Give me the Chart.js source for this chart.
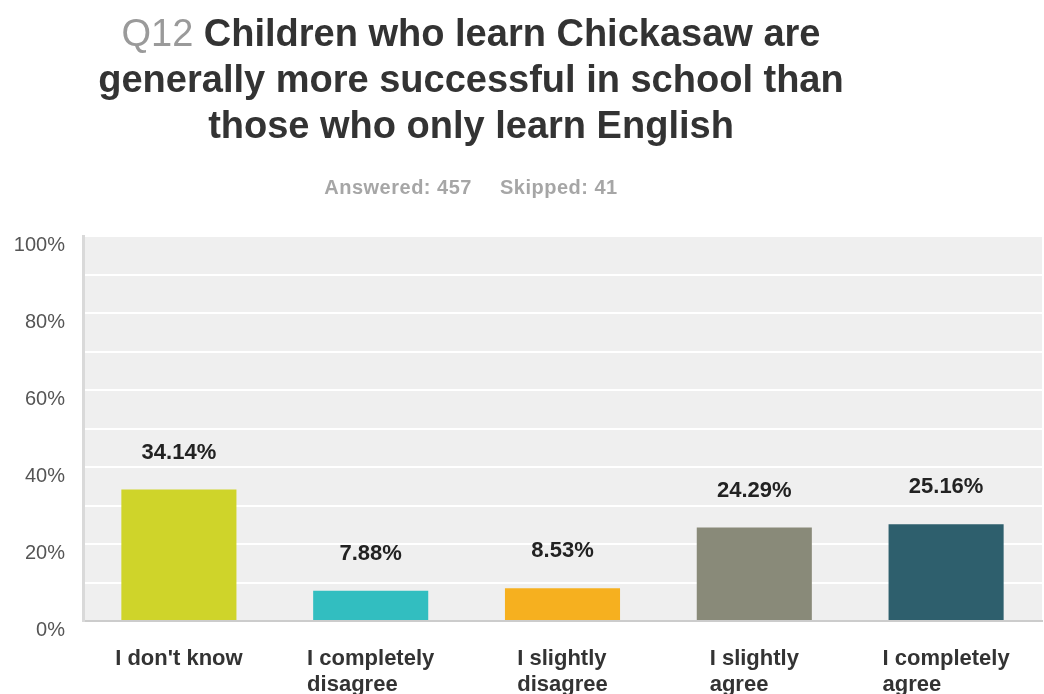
<!DOCTYPE html>
<html>
<head>
<meta charset="utf-8">
<script src="https://cdn.jsdelivr.net/npm/chart.js@4"></script>
<style>
  html, body { margin: 0; padding: 0; background: #fff; }
  #wrap { position: relative; width: 1044px; height: 694px; font-family: "Liberation Sans", Arial, sans-serif; }
  #title { position: absolute; left: 0; top: 10px; width: 942px; text-align: center; font-size: 38px; line-height: 46px; font-weight: bold; color: #333; }
  #title .q { color: #9a9a9a; font-weight: normal; }
  #sub { position: absolute; left: 0; top: 174px; width: 942px; text-align: center; font-size: 20px; line-height: 26px; font-weight: bold; color: #a6a6a6; letter-spacing: 0.5px; }
  #sub span + span { margin-left: 28px; }
  canvas { position: absolute; left: 0; top: 0; }
</style>
</head>
<body>
<div id="wrap">
  <canvas id="chart" width="1044" height="694"></canvas>
  <div id="title"><span class="q">Q12</span> Children who learn Chickasaw are<br>generally more successful in school than<br>those who only learn English</div>
  <div id="sub"><span>Answered: 457</span><span>Skipped: 41</span></div>
</div>
<script>
const categories = [
  ["I don't know"],
  ["I completely", "disagree"],
  ["I slightly", "disagree"],
  ["I slightly", "agree"],
  ["I completely", "agree"]
];
const percents = [34.14, 7.88, 8.53, 24.29, 25.16];
const barColors = ['#cfd42a', '#32bec0', '#f6b01f', '#898a79', '#2e5f6d'];
const yTicks = [0, 20, 40, 60, 80, 100];

const FONT = '"Liberation Sans", Arial, sans-serif';

// fond gris de la zone du graphique
const plotBg = {
  id: 'plotBg',
  beforeDraw(chart) {
    const a = chart.chartArea, ctx = chart.ctx;
    ctx.save();
    ctx.fillStyle = '#efefef';
    ctx.fillRect(a.left, a.top, a.right - a.left, a.bottom - a.top);
    ctx.restore();
  }
};

// valeurs au-dessus des barres + libellés de catégories
const labelsPlugin = {
  id: 'labelsPlugin',
  afterDatasetsDraw(chart) {
    const ctx = chart.ctx;
    const meta = chart.getDatasetMeta(0);
    ctx.save();
    ctx.font = 'bold 22px ' + FONT;
    ctx.fillStyle = '#222';
    ctx.textAlign = 'center';
    ctx.textBaseline = 'middle';
    meta.data.forEach((bar, i) => {
      ctx.fillText(percents[i].toFixed(2) + '%', bar.x, bar.y - 37);
    });

    const xs = chart.scales.x;
    ctx.fillStyle = '#333';
    ctx.textAlign = 'left';
    categories.forEach((lines, i) => {
      const cx = xs.getPixelForValue(i);
      const w = Math.max(...lines.map(l => ctx.measureText(l).width));
      lines.forEach((l, j) => {
        ctx.fillText(l, cx - w / 2, xs.top + 38 + j * 26);
      });
    });
    ctx.restore();
  }
};

new Chart(document.getElementById('chart'), {
  type: 'bar',
  data: {
    labels: categories,
    datasets: [{
      data: percents,
      backgroundColor: barColors,
      categoryPercentage: 1,
      barPercentage: 0.6
    }]
  },
  options: {
    responsive: false,
    animation: false,
    layout: { padding: { top: 236, right: 2, left: 0, bottom: 0 } },
    plugins: { legend: { display: false }, tooltip: { enabled: false }, title: { display: false } },
    scales: {
      x: {
        grid: { display: false },
        border: { color: '#cccccc', width: 2 },
        ticks: { display: false },
        afterFit(s) { s.height = 73; }
      },
      y: {
        min: 0, max: 100,
        ticks: {
          stepSize: 10,
          padding: 18,
          labelOffset: 9,
          color: '#555',
          font: { family: FONT, size: 20 },
          callback: v => yTicks.includes(v) ? v + '%' : ''
        },
        grid: { color: '#ffffff', lineWidth: 2, drawTicks: false },
        border: { color: '#d9d9d9', width: 3 },
        afterFit(s) { s.width = 83; }
      }
    }
  },
  plugins: [plotBg, labelsPlugin]
});
</script>
</body>
</html>
